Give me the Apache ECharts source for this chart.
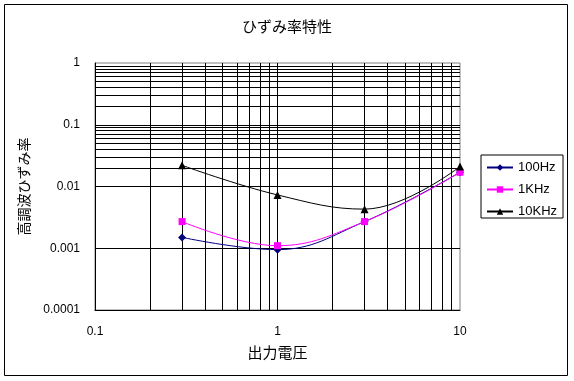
<!DOCTYPE html>
<html>
<head>
<meta charset="utf-8">
<script src="https://cdn.jsdelivr.net/npm/echarts@6/dist/echarts.min.js"></script>
<style>
html,body{margin:0;padding:0;background:#fff;}
#chart{width:574px;height:381px;}
</style>
</head>
<body>
<div id="chart"></div>
<script>
// ---- data ----
const xValues = [0.3, 1, 3, 10];
const series100Hz = [0.0015, 0.00095, 0.0027, 0.017];
const series1KHz = [0.0027, 0.0011, 0.0027, 0.017];
const series10KHz = [0.022, 0.0073, 0.0043, 0.021];
const seriesNames = ['100Hz', '1KHz', '10KHz'];
const xTickLabels = ['0.1', '1', '10'];
const yTickLabels = ['0.0001', '0.001', '0.01', '0.1', '1'];
const titleText = 'ひずみ率特性';
const xAxisTitle = '出力電圧';
const yAxisTitle = '高調波ひずみ率';

// minor gridline values (2..9 within each decade)
function minorValues(lo, hi) {
  const out = [];
  for (let e = lo; e < hi; e++) {
    for (let m = 2; m <= 9; m++) out.push(+(m * Math.pow(10, e)).toPrecision(2));
  }
  return out;
}
const xMinor = minorValues(-1, 1);
const yMinor = minorValues(-4, 0);

const FONT = '"Liberation Sans", "Noto Sans CJK JP", sans-serif';
const pair = arr => xValues.map((x, i) => [x, arr[i]]);
function labelFor(list, v) {
  const k = Math.round(Math.log10(v));
  const found = list.find(s => Math.round(Math.log10(parseFloat(s))) === k);
  return found || '';
}

const chart = echarts.init(document.getElementById('chart'), null, {renderer: 'canvas'});
chart.setOption({
  animation: false,
  backgroundColor: '#fff',
  textStyle: {fontFamily: FONT},
  title: {
    text: titleText,
    left: 'center',
    top: 15,
    textStyle: {fontSize: 15, fontWeight: 'normal', color: '#000', fontFamily: FONT}
  },
  graphic: [{
    type: 'rect',
    shape: {x: 4.5, y: 4.5, width: 563, height: 371},
    style: {fill: 'none', stroke: '#000', lineWidth: 1},
    silent: true
  }],
  grid: {
    left: 95, top: 63, width: 365, height: 247,
    show: true, borderColor: '#808080', borderWidth: 1, backgroundColor: '#fff'
  },
  legend: {
    orient: 'vertical',
    left: 481, top: 155,
    data: seriesNames,
    borderColor: '#000', borderWidth: 1,
    padding: [6, 6, 0, 5],
    itemGap: 9,
    itemWidth: 26, itemHeight: 8,
    textStyle: {fontSize: 13, color: '#000', fontFamily: FONT, lineHeight: 13},
    selectedMode: false
  },
  xAxis: {
    type: 'log',
    min: 0.1, max: 10,
    logBase: 10,
    name: xAxisTitle,
    nameLocation: 'middle',
    nameGap: 36,
    nameTextStyle: {fontSize: 15, color: '#000', fontFamily: FONT},
    axisLine: {show: true, lineStyle: {color: '#000', width: 1}},
    axisTick: {show: false},
    axisLabel: {
      margin: 16, fontSize: 12, color: '#000', fontFamily: FONT,
      formatter: v => labelFor(xTickLabels, v)
    },
    splitLine: {show: true, showMaxLine: false, lineStyle: {color: '#000', width: 1}},
    minorTick: {show: false},
    minorSplitLine: {show: false}
  },
  yAxis: {
    type: 'log',
    min: 0.0001, max: 1,
    logBase: 10,
    name: yAxisTitle,
    nameLocation: 'middle',
    nameRotate: 90,
    nameGap: 63,
    nameTextStyle: {fontSize: 14, color: '#000', fontFamily: FONT},
    axisLine: {show: true, lineStyle: {color: '#000', width: 1}},
    axisTick: {show: false},
    axisLabel: {
      margin: 15, fontSize: 12, color: '#000', fontFamily: FONT,
      formatter: v => labelFor(yTickLabels, v)
    },
    splitLine: {show: true, showMaxLine: false, lineStyle: {color: '#000', width: 1}},
    minorTick: {show: false},
    minorSplitLine: {show: false}
  },
  series: [
    {
      name: '__grid',
      type: 'line',
      data: [],
      z: 1,
      silent: true,
      markLine: {
        silent: true,
        symbol: ['none', 'none'],
        label: {show: false},
        lineStyle: {color: '#000', type: 'solid', width: 1},
        emphasis: {disabled: true},
        animation: false,
        data: xMinor.map(v => ({xAxis: v})).concat(yMinor.map(v => ({yAxis: v})))
      }
    },
    {
      name: seriesNames[0],
      type: 'line',
      data: pair(series100Hz),
      smooth: 0.4,
      z: 5,
      symbol: 'diamond',
      symbolSize: 8,
      itemStyle: {color: '#000080'},
      lineStyle: {color: '#000080', width: 1}
    },
    {
      name: seriesNames[1],
      type: 'line',
      data: pair(series1KHz),
      smooth: 0.4,
      z: 5,
      symbol: 'rect',
      symbolSize: 7,
      itemStyle: {color: '#FF00FF'},
      lineStyle: {color: '#FF00FF', width: 1}
    },
    {
      name: seriesNames[2],
      type: 'line',
      data: pair(series10KHz),
      smooth: 0.4,
      z: 5,
      symbol: 'triangle',
      symbolSize: 8,
      itemStyle: {color: '#000000'},
      lineStyle: {color: '#000000', width: 1}
    }
  ]
});
</script>
</body>
</html>
